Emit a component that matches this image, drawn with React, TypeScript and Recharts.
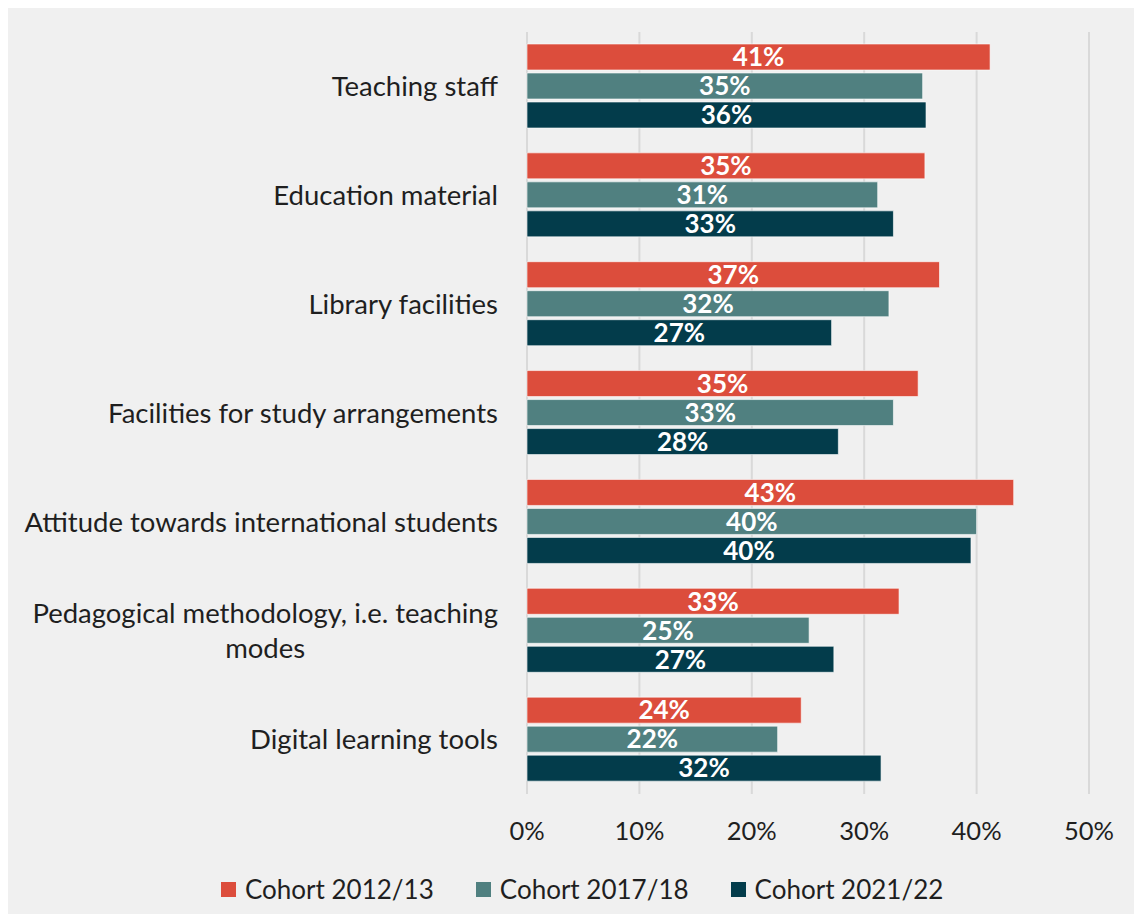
import React from "react";
import {
  BarChart,
  Bar,
  XAxis,
  YAxis,
  CartesianGrid,
  Legend,
  LabelList,
} from "recharts";

const categories = [
  "Teaching staff",
  "Education material",
  "Library facilities",
  "Facilities for study arrangements",
  "Attitude towards international students",
  "Pedagogical methodology, i.e. teaching modes",
  "Digital learning tools",
];

const cohort2012 = [41.2, 35.4, 36.7, 34.8, 43.3, 33.1, 24.4];
const cohort2017 = [35.2, 31.2, 32.2, 32.6, 40.0, 25.1, 22.3];
const cohort2021 = [35.5, 32.6, 27.1, 27.7, 39.5, 27.3, 31.5];

const xTicks = [0, 10, 20, 30, 40, 50];

const series = [
  { key: "c2012", name: "Cohort 2012/13", color: "#dc4d3c" },
  { key: "c2017", name: "Cohort 2017/18", color: "#508080" },
  { key: "c2021", name: "Cohort 2021/22", color: "#033c4b" },
];

const data = categories.map((category, i) => ({
  category,
  c2012: cohort2012[i],
  c2017: cohort2017[i],
  c2021: cohort2021[i],
}));

const FONT = "Lato, 'Open Sans', sans-serif";
const TEXT = "#1f1f1f";
const CAT_SIZE = 27.5;
const TICK_SIZE = 25.5;

let canvas: HTMLCanvasElement | null = null;
const textWidth = (text: string) => {
  if (!canvas) canvas = document.createElement("canvas");
  const ctx = canvas.getContext("2d")!;
  ctx.font = `${CAT_SIZE}px ${FONT}`;
  return ctx.measureText(text).width;
};

const wrap = (text: string, maxChars = 39) => {
  const lines: string[] = [];
  let cur = "";
  for (const word of text.split(" ")) {
    const next = cur ? `${cur} ${word}` : word;
    if (next.length > maxChars && cur) {
      lines.push(cur);
      cur = word;
    } else {
      cur = next;
    }
  }
  if (cur) lines.push(cur);
  return lines;
};

// category labels: right aligned, wrapped ones centred as a block
const CategoryTick = (props: any) => {
  const { x, y, payload } = props;
  const right = x - 29;
  const lines = wrap(String(payload.value));
  const lineHeight = 35;
  if (lines.length === 1) {
    return (
      <text x={right} y={y} dy="0.36em" textAnchor="end" fill={TEXT} fontSize={CAT_SIZE} fontFamily={FONT}>
        {lines[0]}
      </text>
    );
  }
  const widest = Math.max(...lines.map(textWidth));
  const cx = right - widest / 2;
  const top = y - ((lines.length - 1) * lineHeight) / 2;
  return (
    <text textAnchor="middle" fill={TEXT} fontSize={CAT_SIZE} fontFamily={FONT}>
      {lines.map((line, i) => (
        <tspan key={i} x={cx} y={top + i * lineHeight} dy="0.36em">
          {line}
        </tspan>
      ))}
    </text>
  );
};

const LegendContent = () => (
  <div
    style={{
      display: "flex",
      alignItems: "center",
      height: 40,
      paddingLeft: 213,
      gap: 42,
      fontFamily: FONT,
      fontSize: 26,
      color: TEXT,
    }}
  >
    {series.map((s) => (
      <div key={s.key} style={{ display: "flex", alignItems: "center" }}>
        <span style={{ width: 15, height: 15, background: s.color, marginRight: 9 }} />
        <span>{s.name}</span>
      </div>
    ))}
  </div>
);

export default function App() {
  return (
    <div
      style={{
        position: "fixed",
        left: 8,
        top: 8,
        width: 1126,
        height: 906,
        background: "#f0f0f0",
      }}
    >
      <BarChart
        width={1126}
        height={906}
        data={data}
        layout="vertical"
        margin={{ top: 24, right: 45, bottom: 20, left: 0 }}
        barSize={26}
        barGap={3}
      >
        <CartesianGrid horizontal={false} stroke="#d9d9d9" strokeWidth={2} />
        <XAxis
          type="number"
          domain={[0, 50]}
          ticks={xTicks}
          tickFormatter={(v: number) => `${v}%`}
          axisLine={false}
          tickLine={false}
          tickSize={0}
          tickMargin={28}
          height={60}
          tick={{ fill: TEXT, fontSize: TICK_SIZE, fontFamily: FONT }}
        />
        <YAxis
          type="category"
          dataKey="category"
          width={519}
          axisLine={false}
          tickLine={false}
          tickSize={0}
          tickMargin={0}
          interval={0}
          tick={<CategoryTick />}
        />
        <Legend
          verticalAlign="bottom"
          content={<LegendContent />}
          wrapperStyle={{ left: 0, bottom: 5, width: 1126 }}
        />
        {series.map((s) => (
          <Bar
            key={s.key}
            dataKey={s.key}
            name={s.name}
            fill={s.color}
            stroke="#ffffff"
            strokeOpacity={0.6}
            strokeWidth={1}
            isAnimationActive={false}
          >
            <LabelList
              dataKey={s.key}
              position="center"
              fill="#ffffff"
              fontSize={26}
              fontWeight="bold"
              fontFamily={FONT}
              formatter={(v: any) => `${Math.round(Number(v))}%`}
            />
          </Bar>
        ))}
      </BarChart>
    </div>
  );
}
